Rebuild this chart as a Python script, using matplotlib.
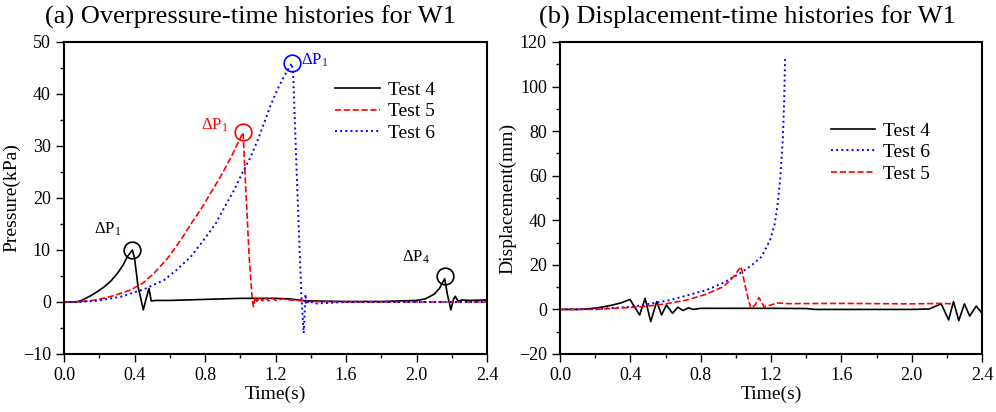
import matplotlib
matplotlib.use("Agg")
import matplotlib.pyplot as plt
from matplotlib.ticker import MultipleLocator

plt.rcParams['font.family'] = ['Liberation Serif', 'DejaVu Serif']
plt.rcParams['mathtext.fontset'] = 'custom'
plt.rcParams['mathtext.rm'] = 'Liberation Serif'
plt.rcParams['mathtext.it'] = 'Liberation Serif:italic'

#---------------------------------------
# (a) overpressure - time (s), pressure (kPa)
t4_p = [0.00, 0.07, 0.10, 0.151, 0.19, 0.227, 0.265, 0.303, 0.335, 0.359, 0.388, 0.40, 0.42, 0.45,
        0.465, 0.482, 0.495, 0.52, 0.60, 0.80, 1.00, 1.20, 1.28, 1.35, 1.40, 1.60, 1.80, 2.00,
        2.05, 2.10, 2.13, 2.16, 2.175, 2.195, 2.21, 2.22, 2.235, 2.26, 2.30, 2.40]
p4 = [0.0, 0.0, 0.3, 1.2, 2.0, 2.9, 4.0, 5.5, 7.1, 8.7, 10.0, 8.5, 3.0, -1.5,
      0.5, 2.6, 0.2, 0.3, 0.3, 0.5, 0.7, 0.7, 0.6, 0.3, 0.2, 0.1, 0.1, 0.3,
      0.6, 1.5, 2.6, 4.5, 1.5, -1.5, 0.5, 1.1, 0.2, 0.4, 0.3, 0.4]

t5_p = [0.00, 0.10, 0.187, 0.28, 0.378, 0.45, 0.51, 0.59, 0.662, 0.72, 0.785, 0.84, 0.898,
        0.95, 0.99, 1.016, 1.031, 1.05, 1.068, 1.075, 1.085, 1.095, 1.11, 1.125, 1.14, 1.16,
        1.18, 1.20, 1.24, 1.28, 1.32, 1.40, 1.60, 2.00, 2.40]
p5 = [0.0, 0.1, 0.4, 1.2, 2.3, 3.7, 5.5, 8.5, 11.9, 15.0, 18.3, 21.4, 24.7,
      28.0, 30.8, 32.6, 22.0, 9.0, 0.5, -0.9, 0.9, 0.1, 1.0, 0.2, 0.9, 0.2,
      0.8, 0.3, 0.6, 0.4, 0.3, 0.1, 0.0, 0.0, 0.0]

t6_p = [0.00, 0.10, 0.20, 0.32, 0.45, 0.567, 0.64, 0.719, 0.79, 0.861, 0.91, 0.965, 1.01,
        1.059, 1.10, 1.135, 1.17, 1.21, 1.25, 1.292, 1.30, 1.32, 1.347, 1.36, 1.37, 1.375,
        1.39, 1.42, 1.60, 2.00, 2.40]
p6 = [0.0, 0.0, 0.3, 1.0, 2.4, 4.2, 6.2, 8.7, 11.8, 15.1, 18.2, 21.5, 24.7,
      27.9, 31.2, 34.4, 37.6, 40.8, 43.5, 45.9, 44.0, 25.0, 1.0, -6.0, 1.5, -0.5,
      0.3, -0.3, 0.0, 0.0, 0.0]

#---------------------------------------
# (b) displacement - time (s), displacement (mm)
t4_d = [0.00, 0.10, 0.15, 0.20, 0.25, 0.30, 0.35, 0.398, 0.453, 0.484, 0.516, 0.55, 0.578,
        0.605, 0.64, 0.67, 0.70, 0.73, 0.76, 0.80, 0.85, 1.00, 1.20, 1.40, 1.45, 1.60,
        2.00, 2.10, 2.168, 2.21, 2.238, 2.268, 2.30, 2.33, 2.367, 2.40]
d4 = [0.0, 0.0, 0.2, 0.6, 1.2, 2.0, 3.0, 4.5, -2.5, 5.0, -5.5, 3.5, -2.5,
      2.0, -1.7, 1.0, -0.5, 0.7, 0.0, 0.5, 0.5, 0.5, 0.5, 0.4, 0.0, 0.0,
      0.0, 0.2, 2.5, -4.7, 3.5, -5.0, 2.5, -3.0, 1.5, -1.7]

t6_d = [0.00, 0.20, 0.416, 0.626, 0.834, 0.93, 1.024, 1.09, 1.147, 1.195, 1.22, 1.236,
        1.252, 1.267, 1.275, 1.28]
d6 = [0.0, 0.2, 1.2, 4.2, 8.7, 12.0, 16.2, 19.8, 23.7, 31.2, 38.0, 46.0,
      58.0, 76.0, 94.0, 112.3]

t5_d = [0.00, 0.20, 0.47, 0.60, 0.72, 0.83, 0.929, 0.98, 1.03, 1.06, 1.085, 1.11, 1.132,
        1.16, 1.20, 1.232, 1.30, 1.60, 2.00, 2.17, 2.24]
d5 = [0.0, 0.0, 1.2, 2.5, 4.2, 6.8, 10.2, 14.0, 19.2, 8.0, 0.5, 2.0, 5.3,
      1.2, 2.0, 2.9, 2.6, 2.7, 2.5, 2.7, 2.5]

# pics annotes sur (a)
pics_t = [0.388, 1.016, 1.292, 2.16]
pics_p = [10.0, 32.6, 45.9, 5.0]
pics_c = ['black', 'red', 'blue', 'black']
labels_txt = ['ΔP$_1$', 'ΔP$_1$', 'ΔP$_1$', 'ΔP$_4$']
labels_t = [0.17, 0.78, 1.345, 1.92]
labels_p = [14.0, 34.0, 46.5, 8.5]
#---------------------------------------


def styleAxes(ax, ymin, ymax, ymaj, ymin_step):
    ax.set_xlim(0, 2.4)
    ax.set_ylim(ymin, ymax)
    ax.xaxis.set_major_locator(MultipleLocator(0.4))
    ax.xaxis.set_minor_locator(MultipleLocator(0.2))
    ax.yaxis.set_major_locator(MultipleLocator(ymaj))
    ax.yaxis.set_minor_locator(MultipleLocator(ymin_step))
    ax.xaxis.set_major_formatter(plt.FuncFormatter(lambda v, p: '%.1f' % v))
    ax.tick_params(which='major', direction='out', length=6, width=1, labelsize=13,
                   top=False, right=False)
    ax.tick_params(which='minor', direction='out', length=3, width=1,
                   top=False, right=False)
    for s in ax.spines.values():
        s.set_linewidth(1.5)
    ax.set_xlabel('Time(s)', fontsize=14, labelpad=1)


fig = plt.figure(figsize=(9.96, 4.12), dpi=100)
ax1 = fig.add_axes([64/996, 1-354/412, (487-64)/996, (354-42)/412])
ax2 = fig.add_axes([560/996, 1-354/412, (982-560)/996, (354-42)/412])

#---- (a) ----
ax1.plot(t4_p, p4, '-', color='black', lw=1.2, label='Test 4')
ax1.plot(t5_p, p5, '--', color='red', lw=1.2, label='Test 5')
ax1.plot(t6_p, p6, ':', color='blue', lw=1.4, label='Test 6')
for i in range(len(pics_t)):
    ax1.plot(pics_t[i], pics_p[i], 'o', ms=12, mfc='none', mec=pics_c[i], mew=1.2)
    ax1.text(labels_t[i], labels_p[i], labels_txt[i], color=pics_c[i], fontsize=12,
             ha='left', va='center')
styleAxes(ax1, -10, 50, 10, 5)
ax1.set_ylabel('Pressure(kPa)', fontsize=14, labelpad=2)
ax1.legend(loc='upper left', bbox_to_anchor=(0.6, 0.93), frameon=False, fontsize=14,
           handlelength=2.3, handletextpad=0.4, labelspacing=0.2)

#---- (b) ----
ax2.plot(t4_d, d4, '-', color='black', lw=1.2, label='Test 4')
ax2.plot(t6_d, d6, ':', color='blue', lw=1.4, label='Test 6')
ax2.plot(t5_d, d5, '--', color='red', lw=1.2, label='Test 5')
styleAxes(ax2, -20, 120, 20, 10)
ax2.set_ylabel('Displacement(mm)', fontsize=14, labelpad=2)
ax2.legend(loc='upper left', bbox_to_anchor=(0.6, 0.8), frameon=False, fontsize=14,
           handlelength=2.3, handletextpad=0.4, labelspacing=0.2)

fig.text(250/996, 1-17/412, '(a) Overpressure-time histories for W1', fontsize=19,
         ha='center', va='center')
fig.text(747/996, 1-17/412, '(b) Displacement-time histories for W1', fontsize=19,
         ha='center', va='center')

fig.savefig('out.png', dpi=100)
